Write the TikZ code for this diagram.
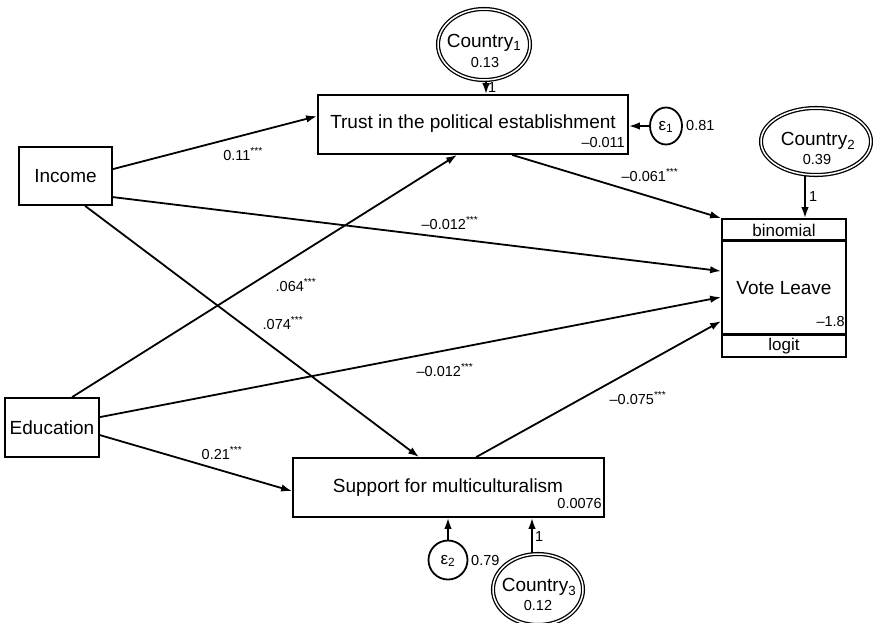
\documentclass[tikz,border=0pt]{standalone}
\usepackage{fontspec}
\setmainfont{Liberation Sans}
\usetikzlibrary{arrows.meta,shapes.geometric,calc}
\newcommand\sig{\textsuperscript{***}}
\begin{document}
\begin{tikzpicture}[x=1pt,y=-1pt,
  box/.style={draw,line width=1.8pt,rectangle,inner sep=0pt,font=\fontsize{19}{22}\selectfont},
  cty/.style={draw,ellipse,line width=1.3pt,double,double distance=1.5pt,inner sep=0pt},
  errc/.style={draw,ellipse,line width=1.8pt,inner sep=0pt},
  big/.style={inner sep=0pt,font=\fontsize{19}{22}\selectfont},
  mid/.style={inner sep=0pt,font=\fontsize{17}{20}\selectfont},
  lab/.style={inner sep=0pt,font=\fontsize{14.5}{17}\selectfont},
  arr/.style={line width=1.8pt,-{Latex[length=11pt,width=7.5pt]}},
  thk/.style={line width=3pt}
]
\useasboundingbox (0,0) rectangle (873,622);
\begin{scope}
\clip (0,0) rectangle (873,622);

% main boxes
\node[box,minimum width=93pt,minimum height=58pt] (income) at (65.5,176) {Income};
\node[box,minimum width=94pt,minimum height=59pt] (edu) at (52,427.5) {Education};
\node[box,minimum width=310pt,minimum height=59pt] (trust) at (473,124.5) {};
\node[big] (trustt) at (473,124) {Trust in the political establishment};
\node[lab,anchor=east] (trustc) at (625,143) {–0.011};
\node[box,minimum width=311pt,minimum height=59pt] (support) at (448.5,487.5) {};
\node[big] (supportt) at (448,488) {Support for multiculturalism};
\node[lab,anchor=east] (supportc) at (602,503) {0.0076};

% Vote Leave box
\node[box,minimum width=124pt,minimum height=138pt] (vl) at (784,288) {};
\draw[thk] ($(vl.north west)+(0,22.5)$) coordinate (vla) -- ($(vl.north east)+(0,22.5)$) coordinate (vlb);
\draw[thk] ($(vl.north west)+(0,116.5)$) coordinate (vlc) -- ($(vl.north east)+(0,116.5)$) coordinate (vld);
\node[mid] (binom) at (784,230) {binomial};
\node[big] (vlt) at (784,288) {Vote Leave};
\node[lab,anchor=east] (vlcst) at (845,322) {–1.8};
\node[mid] (logit) at (784,346) {logit};

% country ellipses
\node[cty,minimum width=92pt,minimum height=71pt] (c1) at (484,44.5) {};
\node[big] (c1t) at (484,43) {Country\textsubscript{1}};
\node[lab] (c1v) at (485,63) {0.13};
\node[cty,minimum width=110pt,minimum height=67pt] (c2) at (816,141.5) {};
\node[big] (c2t) at (818,141) {Country\textsubscript{2}};
\node[lab] (c2v) at (817,160) {0.39};
\node[cty,minimum width=90pt,minimum height=71pt] (c3) at (538,589.5) {};
\node[big] (c3t) at (539,587) {Country\textsubscript{3}};
\node[lab] (c3v) at (538,605) {0.12};

% error terms
\node[errc,minimum width=32pt,minimum height=37pt] (e1) at (666,126) {};
\node[mid] (e1t) at (666,127) {ε\textsubscript{1}};
\node[lab,anchor=west] (e1v) at (686,126) {0.81};
\node[errc,minimum width=39pt,minimum height=39pt] (e2) at (448,560) {};
\node[mid] (e2t) at (448,561) {ε\textsubscript{2}};
\node[lab,anchor=west] (e2v) at (471,560) {0.79};

% loadings from countries / errors
\draw[arr] ([xshift=2pt]c1.south) -- ([xshift=2pt]c1.south |- trust.north);
\node[lab,anchor=west] (l1) at (488,88) {1};
\draw[arr] ([xshift=-11pt]c2.south) -- ([xshift=-11pt]c2.south |- vl.north);
\node[lab,anchor=west] (l2) at (809,197) {1};
\draw[arr] ([xshift=-6pt]c3.north) -- ([xshift=-6pt]c3.north |- support.south);
\node[lab,anchor=west] (l3) at (535,537) {1};
\draw[arr] (e1.west) -- (e1.west -| trust.east);
\draw[arr] (e2.north) -- (e2.north |- support.south);

% structural paths
\draw[arr] ($(income.north east)+(0,23)$) -- ($(trust.north west)+(0,22)$);
\draw[arr] ($(income.north east)+(0,51)$) -- ($(vl.north west)+(0,53)$);
\draw[arr] ($(income.south west)+(67,0)$) -- ($(support.north west)+(127,0)$);
\draw[arr] ($(edu.north west)+(68,0)$) -- ($(trust.south west)+(140,0)$);
\draw[arr] ($(edu.north east)+(0,20)$) -- ($(vl.north west)+(0,79)$);
\draw[arr] ($(edu.north east)+(0,38)$) -- ($(support.north west)+(0,34)$);
\draw[arr] ($(trust.south west)+(195,0)$) -- (vl.north west);
\draw[arr] ($(support.north west)+(184,0)$) -- ($(vl.north west)+(0,103)$);

% path labels
\node[lab] (p1) at (243,154) {0.11\sig};
\node[lab] (p2) at (450,223) {–0.012\sig};
\node[lab] (p3) at (296,285) {.064\sig};
\node[lab] (p4) at (283,323) {.074\sig};
\node[lab] (p5) at (445,370) {–0.012\sig};
\node[lab] (p6) at (222,453) {0.21\sig};
\node[lab] (p7) at (650,175) {–0.061\sig};
\node[lab] (p8) at (638,398) {–0.075\sig};
\end{scope}
\end{tikzpicture}
\end{document}
